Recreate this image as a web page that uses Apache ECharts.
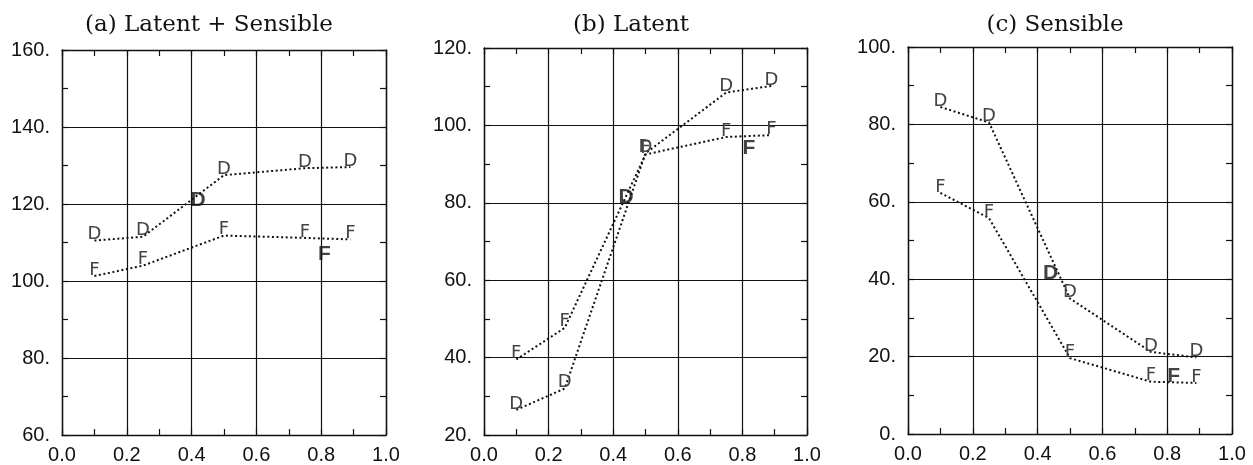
<!DOCTYPE html>
<html>
<head>
<meta charset="utf-8">
<script src="https://cdn.jsdelivr.net/npm/echarts@6/dist/echarts.min.js"></script>
<style>
  html, body { margin: 0; padding: 0; background: #fff; }
  #main { width: 1253px; height: 465px; }
</style>
</head>
<body>
<div id="main"></div>
<script>
// shared x positions of the D / F points
var xPos = [0.1, 0.25, 0.5, 0.75, 0.89];

// (a) Latent + Sensible
var latSensD = [110.5, 111.5, 127.5, 129.3, 129.6];
var latSensF = [101.3, 104.0, 111.8, 111.2, 110.8];
var latSensBold = [[0.42, 121, 'D'], [0.81, 107, 'F']];

// (b) Latent
var latentD = [26.5, 32.0, 92.8, 108.5, 110.2];
var latentF = [39.5, 47.7, 92.5, 97.0, 97.5];
var latentBold = [[0.44, 81.5, 'D'], [0.82, 94, 'F']];

// (c) Sensible
var sensD = [84.5, 80.5, 35.0, 21.2, 19.8];
var sensF = [62.3, 55.8, 19.6, 13.5, 13.2];
var sensBold = [[0.44, 41.5, 'D'], [0.82, 15, 'F']];

var titles = ['(a) Latent + Sensible', '(b) Latent', '(c) Sensible'];
var yRanges = [[60, 160], [20, 120], [0, 100]];
var xTicks = ['0.0', '0.2', '0.4', '0.6', '0.8', '1.0'];

var panels = [
  { D: latSensD, F: latSensF, bold: latSensBold, grid: { left: 62, top: 50, width: 324, height: 386 }, titleX: 204 },
  { D: latentD, F: latentF, bold: latentBold, grid: { left: 484, top: 48, width: 323, height: 387 }, titleX: 626 },
  { D: sensD, F: sensF, bold: sensBold, grid: { left: 908, top: 47, width: 324, height: 387 }, titleX: 1050 }
];

var labelFont = 'Liberation Sans, Arial, sans-serif';

function pairs(ys) {
  return ys.map(function (y, i) { return [xPos[i], y]; });
}

var option = {
  animation: false,
  backgroundColor: '#fff',
  title: [],
  grid: [],
  xAxis: [],
  yAxis: [],
  series: []
};

panels.forEach(function (p, k) {
  option.title.push({
    text: titles[k],
    left: p.titleX,
    top: 9,
    textAlign: 'center',
    textStyle: { fontFamily: 'DejaVu Serif, serif', fontSize: 23, fontWeight: 'normal', color: '#111' }
  });
  option.grid.push(p.grid);

  var tickCommon = { show: true, inside: true, length: 6, lineStyle: { color: '#111', width: 1.2 } };
  var minor = { show: true, splitNumber: 2, length: 6, lineStyle: { color: '#111', width: 1.2 } };
  var axisLine = { show: true, onZero: false, lineStyle: { color: '#111', width: 1.4 } };

  // bottom x axis with labels and grid lines
  option.xAxis.push({
    type: 'value', gridIndex: k, min: 0, max: 1, interval: 0.2, position: 'bottom',
    axisLine: axisLine, axisTick: tickCommon, minorTick: minor,
    splitLine: { show: true, lineStyle: { color: '#111', width: 1.2 } },
    axisLabel: {
      margin: 10, fontFamily: labelFont, fontSize: 20, color: '#111',
      formatter: function (v) { return xTicks[Math.round(v * 5)]; }
    }
  });
  // top x axis: frame + minor ticks only
  option.xAxis.push({
    type: 'value', gridIndex: k, min: 0, max: 1, interval: 0.2, position: 'top',
    axisLine: axisLine, axisTick: tickCommon, minorTick: minor,
    splitLine: { show: false }, axisLabel: { show: false }
  });
  option.yAxis.push({
    type: 'value', gridIndex: k, min: yRanges[k][0], max: yRanges[k][1], interval: 20, position: 'left',
    axisLine: axisLine, axisTick: tickCommon, minorTick: minor,
    splitLine: { show: true, lineStyle: { color: '#111', width: 1.2 } },
    axisLabel: {
      margin: 12, fontFamily: labelFont, fontSize: 20, color: '#111',
      formatter: function (v) { return v + '.'; }
    }
  });
  option.yAxis.push({
    type: 'value', gridIndex: k, min: yRanges[k][0], max: yRanges[k][1], interval: 20, position: 'right',
    axisLine: axisLine, axisTick: tickCommon, minorTick: minor,
    splitLine: { show: false }, axisLabel: { show: false }
  });

  [['D', p.D], ['F', p.F]].forEach(function (s) {
    option.series.push({
      type: 'line',
      xAxisIndex: 2 * k, yAxisIndex: 2 * k,
      data: pairs(s[1]),
      symbol: 'circle', symbolSize: 1, showSymbol: true,
      itemStyle: { color: 'rgba(0,0,0,0)' },
      lineStyle: { color: '#111', width: 2, type: [2, 2.6] },
      label: {
        show: true, position: 'inside', offset: [0, -6],
        formatter: s[0], fontFamily: 'DejaVu Sans, sans-serif', fontSize: 18, color: '#444'
      },
      z: 5
    });
  });

  option.series.push({
    type: 'scatter',
    xAxisIndex: 2 * k, yAxisIndex: 2 * k,
    data: p.bold,
    symbolSize: 1,
    itemStyle: { color: 'rgba(0,0,0,0)' },
    label: {
      show: true, position: 'inside', offset: [0, 0],
      formatter: function (d) { return d.data[2]; },
      fontFamily: 'Liberation Sans, Arial, sans-serif', fontSize: 21, fontWeight: 'bold', color: '#111'
    },
    z: 6
  });
});

var chart = echarts.init(document.getElementById('main'));
chart.setOption(option);
</script>
</body>
</html>
